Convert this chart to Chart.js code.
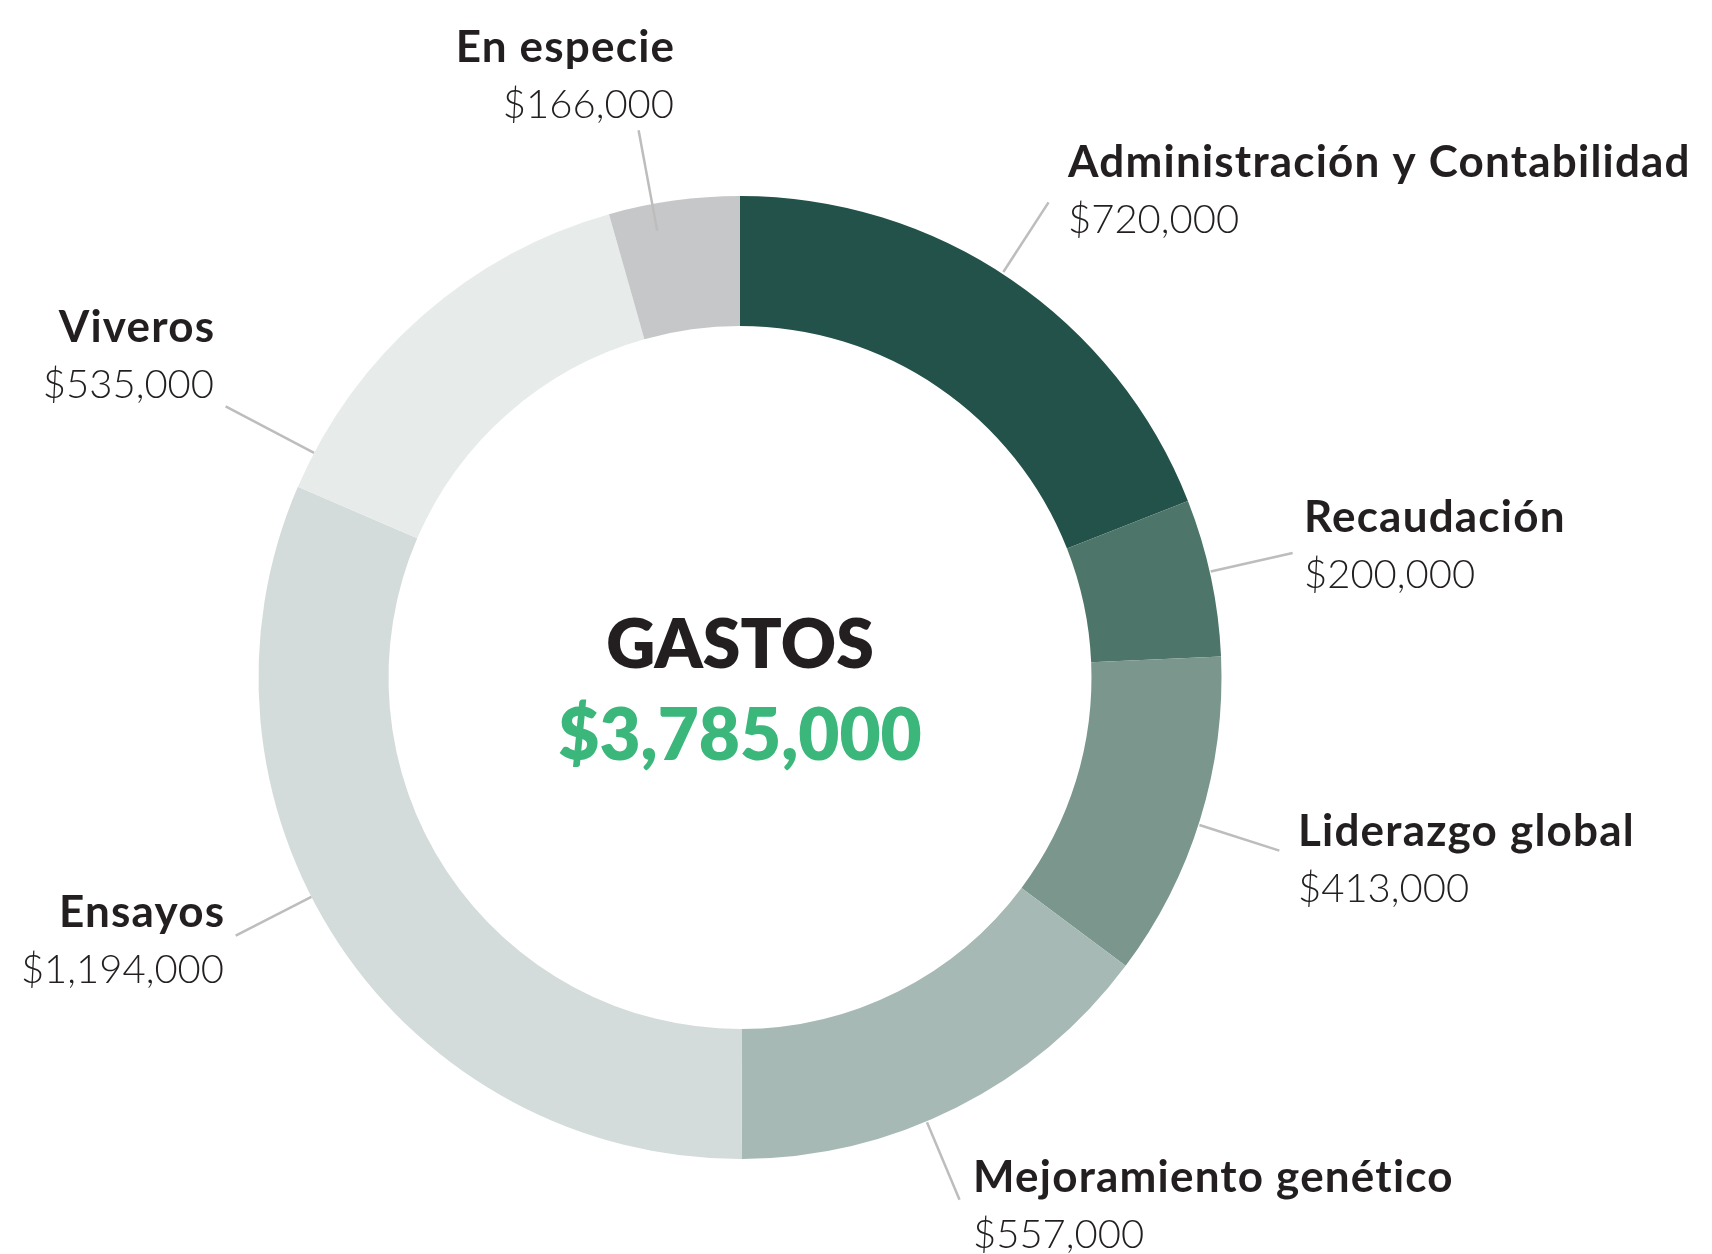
<!DOCTYPE html>
<html>
<head>
<meta charset="utf-8">
<script src="https://cdn.jsdelivr.net/npm/chart.js@4.4.1/dist/chart.umd.min.js"></script>
<style>
  html, body { margin: 0; padding: 0; background: #ffffff; }
  #wrap { width: 1712px; height: 1254px; position: relative; }
  canvas { display: block; }
</style>
</head>
<body>
<div id="wrap"><canvas id="c" width="1712" height="1254"></canvas></div>
<script>
// ---- Data ----
const categories = [
  'Administración y Contabilidad',
  'Recaudación',
  'Liderazgo global',
  'Mejoramiento genético',
  'Ensayos',
  'Viveros',
  'En especie'
];
const amounts = [720000, 200000, 413000, 557000, 1194000, 535000, 166000];
const centerTitle = 'GASTOS';
const centerTotal = amounts.reduce((a, b) => a + b, 0);

// ---- Styles ----
const sliceColors = ['#23524A', '#4E7569', '#7A968D', '#A6B9B4', '#D3DCDB', '#E7ECEB', '#C6C7C9'];
const textColor = '#231F20';
const totalColor = '#3BB77B';
const leaderColor = '#BDBDBD';
const fontFamily = 'Lato, "Open Sans", sans-serif';

// label layout: text anchor (x, baseline y) and alignment; leader angle (deg, clockwise from top) and radii offsets from outer radius
const labelLayout = [
  { x: 1068, y: 177, align: 'left',  angle: 33.0,  r1: 2,   r2: 85 },
  { x: 1304, y: 532, align: 'left',  angle: 77.3,  r1: 1,   r2: 85 },
  { x: 1298, y: 846, align: 'left',  angle: 107.8, r1: 1,   r2: 85 },
  { x: 973,  y: 1192, align: 'left', angle: 157.2, r1: 1,   r2: 85 },
  { x: 224,  y: 927, align: 'right', angle: 242.9, r1: 0,   r2: 85 },
  { x: 214,  y: 342, align: 'right', angle: 297.8, r1: 0,   r2: 100 },
  { x: 674,  y: 62,  align: 'right', angle: 349.5, r1: -27, r2: 75 }
];
const valueLineGap = 56;

function fmtMoney(v) {
  return '$' + v.toLocaleString('en-US');
}

const labelPlugin = {
  id: 'labelPlugin',
  afterDatasetsDraw(chart) {
    const ctx = chart.ctx;
    const meta = chart.getDatasetMeta(0);
    const arc0 = meta.data[0];
    const cx = arc0.x, cy = arc0.y, R = arc0.outerRadius;
    ctx.save();
    ctx.strokeStyle = leaderColor;
    ctx.lineWidth = 2.5;
    labelLayout.forEach((L) => {
      const a = L.angle * Math.PI / 180;
      const x1 = cx + (R + L.r1) * Math.sin(a), y1 = cy - (R + L.r1) * Math.cos(a);
      const x2 = cx + (R + L.r2) * Math.sin(a), y2 = cy - (R + L.r2) * Math.cos(a);
      ctx.beginPath();
      ctx.moveTo(x1, y1);
      ctx.lineTo(x2, y2);
      ctx.stroke();
    });
    ctx.restore();
  },
  afterDraw(chart) {
    const ctx = chart.ctx;
    const meta = chart.getDatasetMeta(0);
    const arc0 = meta.data[0];
    const cx = arc0.x;
    ctx.save();
    ctx.textBaseline = 'alphabetic';
    categories.forEach((name, i) => {
      const L = labelLayout[i];
      ctx.textAlign = L.align;
      ctx.fillStyle = textColor;
      ctx.font = '700 44px ' + fontFamily;
      ctx.letterSpacing = '1.2px';
      ctx.fillText(name, L.x + (L.align === 'right' ? 1.2 : 0), L.y);
      ctx.letterSpacing = '0px';
      ctx.font = '300 40px ' + fontFamily;
      ctx.fillText(fmtMoney(amounts[i]), L.x, L.y + valueLineGap);
    });
    ctx.textAlign = 'center';
    ctx.fillStyle = textColor;
    ctx.font = '800 68px ' + fontFamily;
    ctx.fillText(centerTitle, cx, 668);
    ctx.fillStyle = totalColor;
    ctx.font = '800 71px ' + fontFamily;
    ctx.fillText(fmtMoney(centerTotal), cx, 760);
    ctx.restore();
  }
};

new Chart(document.getElementById('c'), {
  type: 'doughnut',
  data: {
    labels: categories,
    datasets: [{
      data: amounts,
      backgroundColor: sliceColors,
      borderWidth: 0,
      hoverOffset: 0
    }]
  },
  options: {
    responsive: false,
    animation: false,
    cutout: '73%',
    layout: { padding: { left: 258.5, right: 490.5, top: 196, bottom: 95 } },
    plugins: {
      legend: { display: false },
      tooltip: { enabled: false },
      title: { display: false }
    }
  },
  plugins: [labelPlugin]
});
</script>
</body>
</html>
